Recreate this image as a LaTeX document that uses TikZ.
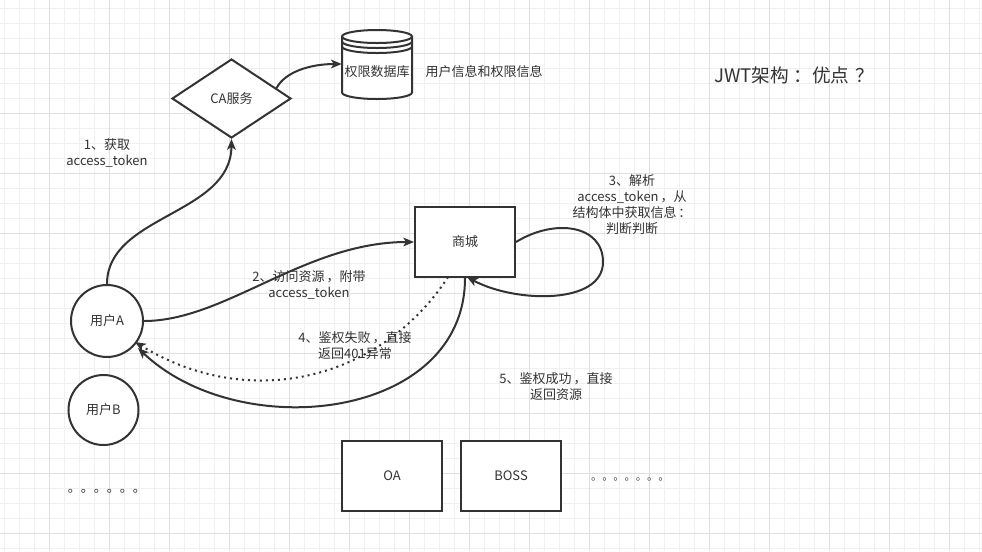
\documentclass[tikz,border=0pt]{standalone}
\usepackage{fontspec}
\setmainfont{Noto Sans CJK SC}
\usetikzlibrary{shapes.geometric,arrows.meta}
\definecolor{ink}{HTML}{333333}
\definecolor{gridminor}{HTML}{F0F0F0}
\definecolor{gridmajor}{HTML}{E0E0E0}
\begin{document}
\begin{tikzpicture}[x=0.75pt,y=-0.75pt,
  every node/.style={text=ink, font=\fontsize{9.75pt}{12pt}\selectfont},
  shapeline/.style={draw=ink, line width=1.5pt, fill=white},
  boxnode/.style={shapeline, rectangle, minimum width=75pt, minimum height=52.5pt, inner sep=0pt},
  usernode/.style={shapeline, circle, inner sep=0pt},
  label/.style={align=center, inner sep=0pt},
  conn/.style={draw=ink, line width=1.5pt, -{Stealth[length=8pt,width=6.5pt,inset=2pt]}},
  dotconn/.style={conn, dash pattern=on 1.5pt off 3pt},
  minorline/.style={draw=gridminor, line width=0.75pt},
  majorline/.style={draw=gridmajor, line width=0.75pt}
]
\useasboundingbox (0,0) rectangle (982,551);
\fill[white] (0,0) rectangle (982,551);
% grid
\foreach \x in {4,19,...,979} \draw[minorline] (\x,0) -- (\x,551);
\foreach \y in {8,23,...,548} \draw[minorline] (0,\y) -- (982,\y);
\foreach \x in {49,109,...,949} \draw[majorline] (\x,0) -- (\x,551);
\foreach \y in {53,113,...,533} \draw[majorline] (0,\y) -- (982,\y);

% database cylinder
\node[minimum width=52.5pt, minimum height=51.75pt, inner sep=0pt] (db) at (377,64) {};
\draw[shapeline] (342,36.5) -- (342,92.5) arc[start angle=180, end angle=0, x radius=35, y radius=6.5]
  -- (412,36.5) arc[start angle=0, end angle=-180, x radius=35, y radius=6.5] -- cycle;
\draw[draw=ink, line width=1.5pt] (342,36.5) arc[start angle=180, end angle=0, x radius=35, y radius=6.5];
\draw[draw=ink, line width=1.5pt] (342,41.5) arc[start angle=180, end angle=0, x radius=35, y radius=6.5];
\draw[draw=ink, line width=1.5pt] (342,46.5) arc[start angle=180, end angle=0, x radius=35, y radius=6.5];
\node[label] (dbtext) at (377,72) {权限数据库};
\node[label] (dbnote) at (484,72) {用户信息和权限信息};

% CA diamond
\node[shapeline, diamond, minimum width=89.25pt, minimum height=59.25pt, inner sep=0pt] (ca) at (231.5,98.5) {CA服务};

% title
\node[label, font=\fontsize{14pt}{16pt}\selectfont] (title) at (794,75) {JWT架构\hspace{0.25em}：优点\hspace{0.3em}？};

% shop
\node[boxnode] (mall) at (465,242) {商城};
\node[boxnode] (oa) at (392,476) {OA};
\node[boxnode] (boss) at (511,476) {BOSS};

% users
\node[usernode, minimum size=54pt] (ua) at (107,321) {用户A};
\node[usernode, minimum size=52.5pt] (ub) at (103.5,410) {用户B};

% dots
\node[anchor=base west, inner sep=0pt] (dotsl) at (67.5,492) {。。。。。。};
\node[anchor=base west, inner sep=0pt, font=\fontsize{8.4pt}{10pt}\selectfont] (dotsr) at (590.8,480) {。。。。。。。};

% labels
\node[label] (l1) at (107,153) {1、获取\\access\_token};
\node[label] (l2) at (309,284.5) {2、访问资源\hspace{0.15em}，附带\\access\_token};
\node[label] (l3) at (632,205) {3、解析\\access\_token\hspace{0.15em}，从\\结构体中获取信息\hspace{0.15em}：\\判断判断};
\node[label] (l4) at (355,346) {4、鉴权失败\hspace{0.15em}，直接\\返回401异常};
\node[label] (l5) at (556,386.5) {5、鉴权成功\hspace{0.15em}，直接\\返回资源};

% connectors
\coordinate (mallsl) at (448,277);
\coordinate (mallloopend) at (467,277);
\coordinate (uadot) at (135,342);
\coordinate (uasol) at (138,348);
\draw[conn] (ua.north) .. controls (107,215) and (231,215) .. (ca.south);
\draw[conn] (ca.13) .. controls (285,72) and (310,64) .. (db.west);
\draw[conn] (ua.east) .. controls (225,321) and (305,242) .. (mall.west);
\draw[conn] (mall.east) .. controls (555,218) and (603,225) .. (603,262)
  .. controls (603,305) and (515,303) .. (mallloopend);
\draw[dotconn] (mallsl) .. controls (385,375) and (255,415) .. (uadot);
\draw[conn] (mall.south) .. controls (465,420) and (240,445) .. (uasol);
\end{tikzpicture}
\end{document}
